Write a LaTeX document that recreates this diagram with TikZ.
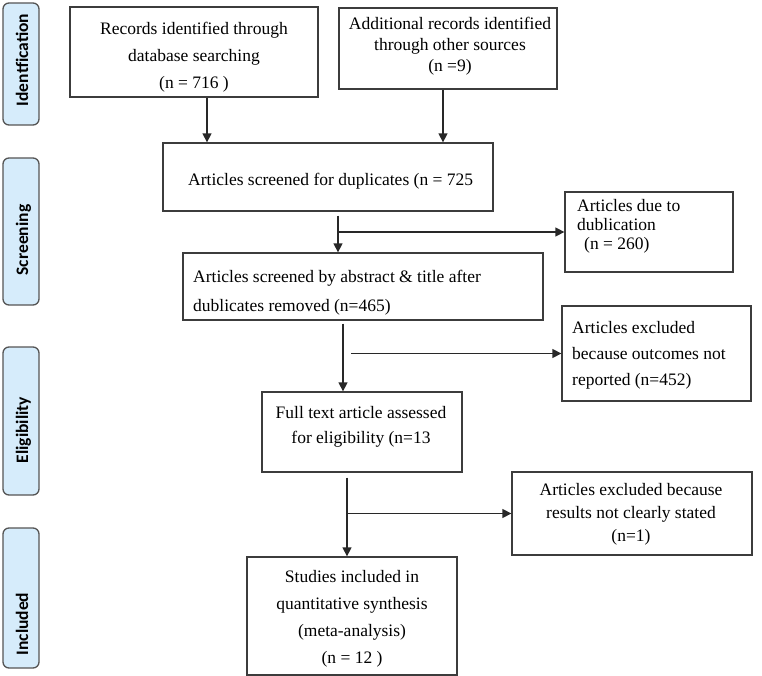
\documentclass[tikz,border=0pt]{standalone}
\usepackage{fontspec}
\setmainfont{Liberation Serif}
\newfontfamily\labfont{Carlito}
\usetikzlibrary{arrows.meta,calc}
\definecolor{labfill}{RGB}{214,236,251}
\definecolor{labdraw}{RGB}{85,85,85}
\definecolor{boxdraw}{RGB}{60,60,60}
\definecolor{linecol}{RGB}{40,40,40}
\begin{document}
\begin{tikzpicture}[x=1pt,y=-1pt,
  box/.style={draw=boxdraw, line width=1.3pt, rectangle, inner sep=0pt},
  lab/.style={draw=labdraw, fill=labfill, line width=1.3pt, rounded corners=6pt, inner sep=0pt,
    minimum width=36pt},
  labtxt/.style={font=\labfont\bfseries\fontsize{17.5}{20}\selectfont, rotate=90, anchor=base, inner sep=0pt},
  txt/.style={font=\fontsize{17.5}{#1}\selectfont, inner sep=0pt},
  arr/.style={draw=linecol, line width=1.4pt, -{Triangle[length=9pt,width=9pt]}},
  ]
\useasboundingbox (0,0) rectangle (762,676);

% side labels
\node[lab, minimum height=122pt] (L1) at (21,64) {};
\node[lab, minimum height=147pt] (L2) at (21,231.5) {};
\node[lab, minimum height=148pt] (L3) at (21,421) {};
\node[lab, minimum height=140pt] (L4) at (21,598) {};
\node[labtxt] (L1t) at (28,60) {Identfication};
\node[labtxt] (L2t) at (28,240) {Screening};
\node[labtxt] (L3t) at (28,430) {Eligibility};
\node[labtxt] (L4t) at (28,624) {Included};

% boxes
\node[box, minimum width=248pt, minimum height=90pt] (A) at (194,52) {};
\node[box, minimum width=218pt, minimum height=81pt] (B) at (448,48.5) {};
\node[box, minimum width=330pt, minimum height=68pt] (C) at (328,177) {};
\node[box, minimum width=168pt, minimum height=80pt] (D) at (649,232) {};
\node[box, minimum width=360pt, minimum height=67pt] (E) at (363,286.5) {};
\node[box, minimum width=189pt, minimum height=95pt] (G) at (656.5,353.5) {};
\node[box, minimum width=200pt, minimum height=80pt] (F) at (362,432) {};
\node[box, minimum width=240pt, minimum height=83pt] (H) at (632,513.5) {};
\node[box, minimum width=210pt, minimum height=118pt] (I) at (352,616) {};

% texts
\node[txt=27, align=center] (At) at (194,57) {Records identified through\\database searching\\(n = 716 )};
\node[txt=21, align=center] (Bt) at (450,46) {Additional records identified\\through other sources\\(n =9)};
\node[txt=20, anchor=west] (Ct) at (188,181) {Articles screened for duplicates (n = 725};
\node[txt=19, align=left, anchor=west] (Dt) at (577,226) {Articles due to\\dublication\\\hspace*{7pt}(n = 260)};
\node[txt=29, align=left, anchor=west] (Et) at (193,293) {Articles screened by abstract \& title after\\dublicates removed (n=465)};
\node[txt=26, align=left, anchor=west] (Gt) at (572,355) {Articles excluded\\because outcomes not\\reported (n=452)};
\node[txt=25, align=center] (Ft) at (361,427) {Full text article assessed\\for eligibility (n=13};
\node[txt=23, align=center] (Ht) at (631,514) {Articles excluded because\\results not clearly stated\\(n=1)};
\node[txt=27, align=center] (It) at (352,619) {Studies included in\\quantitative synthesis\\(meta-analysis)\\(n = 12 )};

% connectors
\coordinate (a1) at ($(A.south)+(13,0)$);
\draw[arr] (a1) -- (a1 |- C.north);
\coordinate (b1) at ($(B.south)+(-5,0)$);
\draw[arr] (b1) -- (b1 |- C.north);

\coordinate (c1) at ($(C.south)+(10,4)$);
\draw[arr] (c1) -- (c1 |- E.north);
\coordinate (c2) at (c1 |- D.west);
\draw[arr] (c2) -- (D.west);

\coordinate (e1) at ($(E.south)+(-20,3)$);
\draw[arr] (e1) -- (e1 |- F.north);
\coordinate (e2) at (e1 |- G.west);
\draw[arr] ($(e2)+(8,0)$) -- (G.west);

\coordinate (f1) at ($(F.south)+(-15,5)$);
\draw[arr] (f1) -- (f1 |- I.north);
\coordinate (f2) at (f1 |- H.west);
\draw[arr] (f2) -- (H.west);
\end{tikzpicture}
\end{document}
